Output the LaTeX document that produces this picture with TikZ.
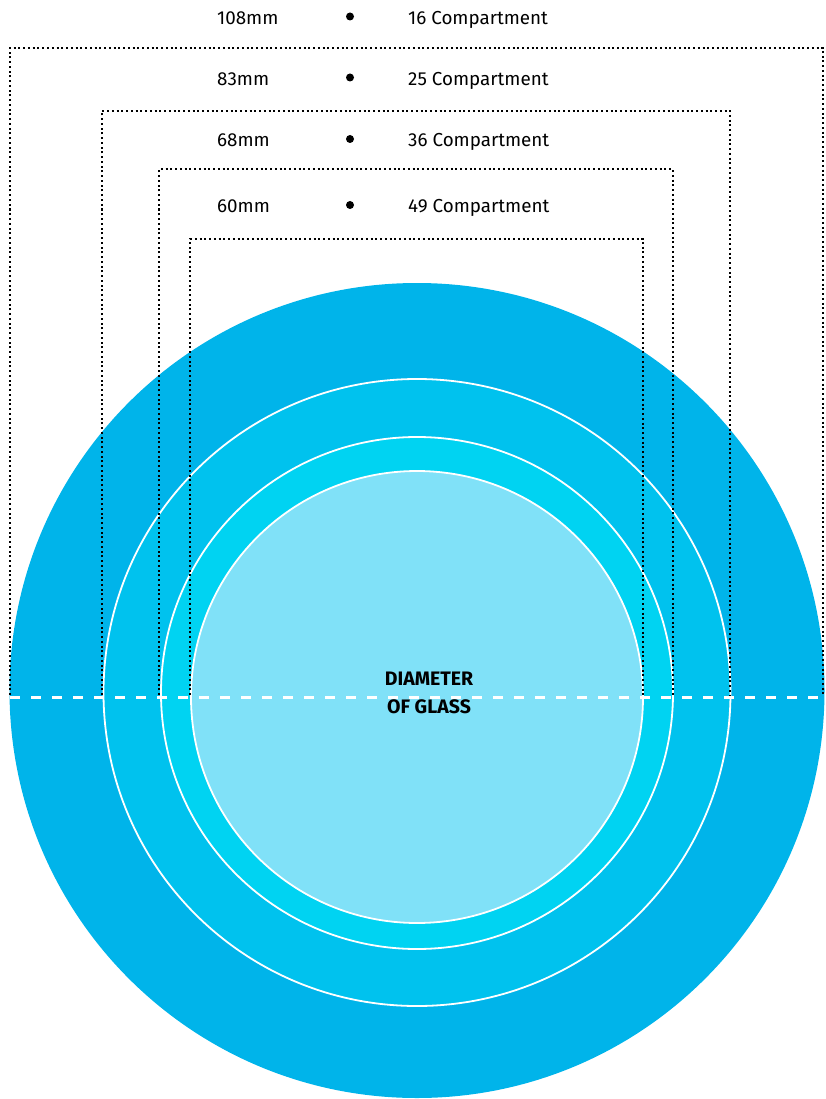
\documentclass[tikz,border=0pt]{standalone}
\usepackage{fontspec}
\setmainfont{Fira Sans}
\definecolor{ringA}{HTML}{00B4EA}
\definecolor{ringB}{HTML}{00C2EE}
\definecolor{ringC}{HTML}{00D3F2}
\definecolor{ringD}{HTML}{80E1F8}
\tikzset{
  dotbox/.style={draw=black, line width=2pt, dash pattern=on 2pt off 2.75pt},
  ringline/.style={draw=white, line width=1.8pt},
  lbl/.style={font=\fontsize{18.8}{22}\selectfont, inner sep=0pt, anchor=base west},
  dot/.style={circle, fill=black, inner sep=0pt, minimum size=8pt},
  title/.style={font=\bfseries\fontsize{19.5}{22}\selectfont, inner sep=0pt, anchor=base}
}
\begin{document}
\begin{tikzpicture}[x=1pt,y=-1pt]
\useasboundingbox (0,0) rectangle (826,1099);
\begin{scope}
\clip (0,0) rectangle (826,1099);
\fill[ringA] (417,690.5) circle (407.5);
\end{scope}
\fill[ringB] (417,692.5) circle (313.5);
\draw[ringline] (417,692.5) circle (313.5);
\fill[ringC] (417,693) circle (256);
\draw[ringline] (417,693) circle (256);
\fill[ringD] (417,697) circle (226);
\draw[ringline] (417,697) circle (226);
% dotted boxes
\draw[dotbox] (10,695) -- (10,48) -- (823,48) -- (823,695);
\draw[dotbox] (102,695) -- (102,111) -- (730,111) -- (730,695);
\draw[dotbox] (159,695) -- (159,169.5) -- (673,169.5) -- (673,695);
\draw[dotbox] (190,695) -- (190,239) -- (643,239) -- (643,695);
% dashed diameter
\coordinate (dl) at (10,697);
\coordinate (dr) at (826,697);
\draw[white, line width=3pt, dash pattern=on 10pt off 11pt] (dl) -- (dr);
% labels
\node[lbl] (m1) at (217,25) {108mm};
\node[dot] (d1) at (350,16.5) {};
\node[lbl] (c1) at (408,25) {16 Compartment};
\node[lbl] (m2) at (217,86) {83mm};
\node[dot] (d2) at (350,77.5) {};
\node[lbl] (c2) at (408,86) {25 Compartment};
\node[lbl] (m3) at (217,147) {68mm};
\node[dot] (d3) at (350,139) {};
\node[lbl] (c3) at (408,147) {36 Compartment};
\node[lbl] (m4) at (217,213) {60mm};
\node[dot] (d4) at (350,205) {};
\node[lbl] (c4) at (408,213) {49 Compartment};
\node[title] (t1) at (429,685) {DIAMETER};
\node[title] (t2) at (429,713) {OF GLASS};
\end{tikzpicture}
\end{document}
